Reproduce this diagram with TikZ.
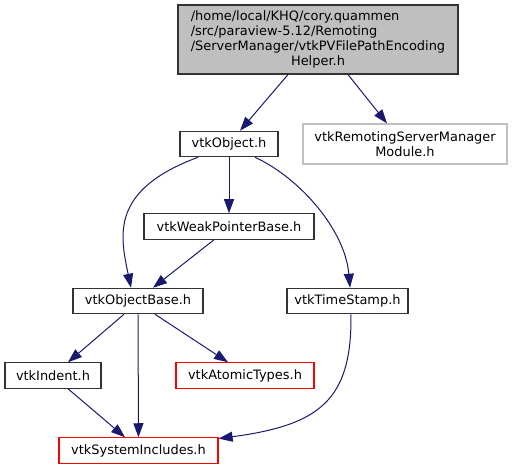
\documentclass[tikz,border=0pt]{standalone}
\usepackage{fontspec}
\setmainfont{DejaVu Sans}
\usetikzlibrary{arrows.meta}
\definecolor{edgeblue}{HTML}{191970}
\definecolor{framegray}{HTML}{333333}
\definecolor{fillgray}{HTML}{BFBFBF}
\definecolor{missred}{HTML}{FF0000}

\begin{document}
\begin{tikzpicture}[x=0.75pt,y=-0.75pt,
  file/.style={draw=framegray,line width=0.9pt,inner sep=0pt,minimum height=19pt,
    font=\fontsize{9.7}{11.25}\selectfont,align=center},
  nodoc/.style={file,draw=missred},
  extern/.style={file,draw=fillgray},
  dep/.style={edgeblue,line width=0.75pt,-{Triangle[length=10.5pt,width=7.5pt]}}]
\useasboundingbox (0,0) rectangle (513,469);
\node[file,fill=fillgray,minimum width=210pt,minimum height=51.75pt] (top) at (318,39.5)
  {\begin{tabular}{@{}l@{}}/home/local/KHQ/cory.quammen\\/src/paraview-5.12/Remoting\\
   /ServerManager/vtkPVFilePathEncoding\\\multicolumn{1}{@{}c@{}}{Helper.h}\end{tabular}};
\node[file,minimum width=73.5pt] (obj) at (229,144) {vtkObject.h};
\node[extern,minimum width=153pt,minimum height=30pt] (mod) at (405,144) {vtkRemotingServerManager\\Module.h};
\node[file,minimum width=127.5pt] (weak) at (229,226.5) {vtkWeakPointerBase.h};
\node[file,minimum width=97.5pt] (base) at (138,301) {vtkObjectBase.h};
\node[file,minimum width=90.75pt] (stamp) at (347.5,301) {vtkTimeStamp.h};
\node[file,minimum width=72pt] (indent) at (53,375.5) {vtkIndent.h};
\node[nodoc,minimum width=103.5pt] (atomic) at (245,375.5) {vtkAtomicTypes.h};
\node[nodoc,minimum width=119.25pt] (sys) at (138.5,450.5) {vtkSystemIncludes.h};

\draw[dep] ([xshift=-22.5pt]top.south) -- ([xshift=8.25pt]obj.north);
\draw[dep] ([xshift=22.5pt]top.south) -- ([xshift=-13.5pt]mod.north);
\draw[dep] ([xshift=-23.25pt]obj.south) .. controls (110,190) and (120,235) .. ([xshift=-5.25pt]base.north);
\draw[dep] (obj) -- (weak);
\draw[dep] ([xshift=19.5pt]obj.south) .. controls (300,178) and (345,230) .. ([xshift=1.9pt]stamp.north);
\draw[dep] ([xshift=-11.25pt]weak.south) -- ([xshift=11.25pt]base.north);
\draw[dep] ([xshift=-10.5pt]base.south) -- ([xshift=11.25pt]indent.north);
\draw[dep] (base) -- (sys);
\draw[dep] ([xshift=12.75pt]base.south) -- ([xshift=-12.75pt]atomic.north);
\draw[dep] ([xshift=11.25pt]indent.south) -- ([xshift=-10.1pt]sys.north);
\draw[dep] ([xshift=2.6pt]stamp.south) .. controls (352,400) and (320,425) .. ([yshift=-1pt]sys.north east);
\end{tikzpicture}
\end{document}
